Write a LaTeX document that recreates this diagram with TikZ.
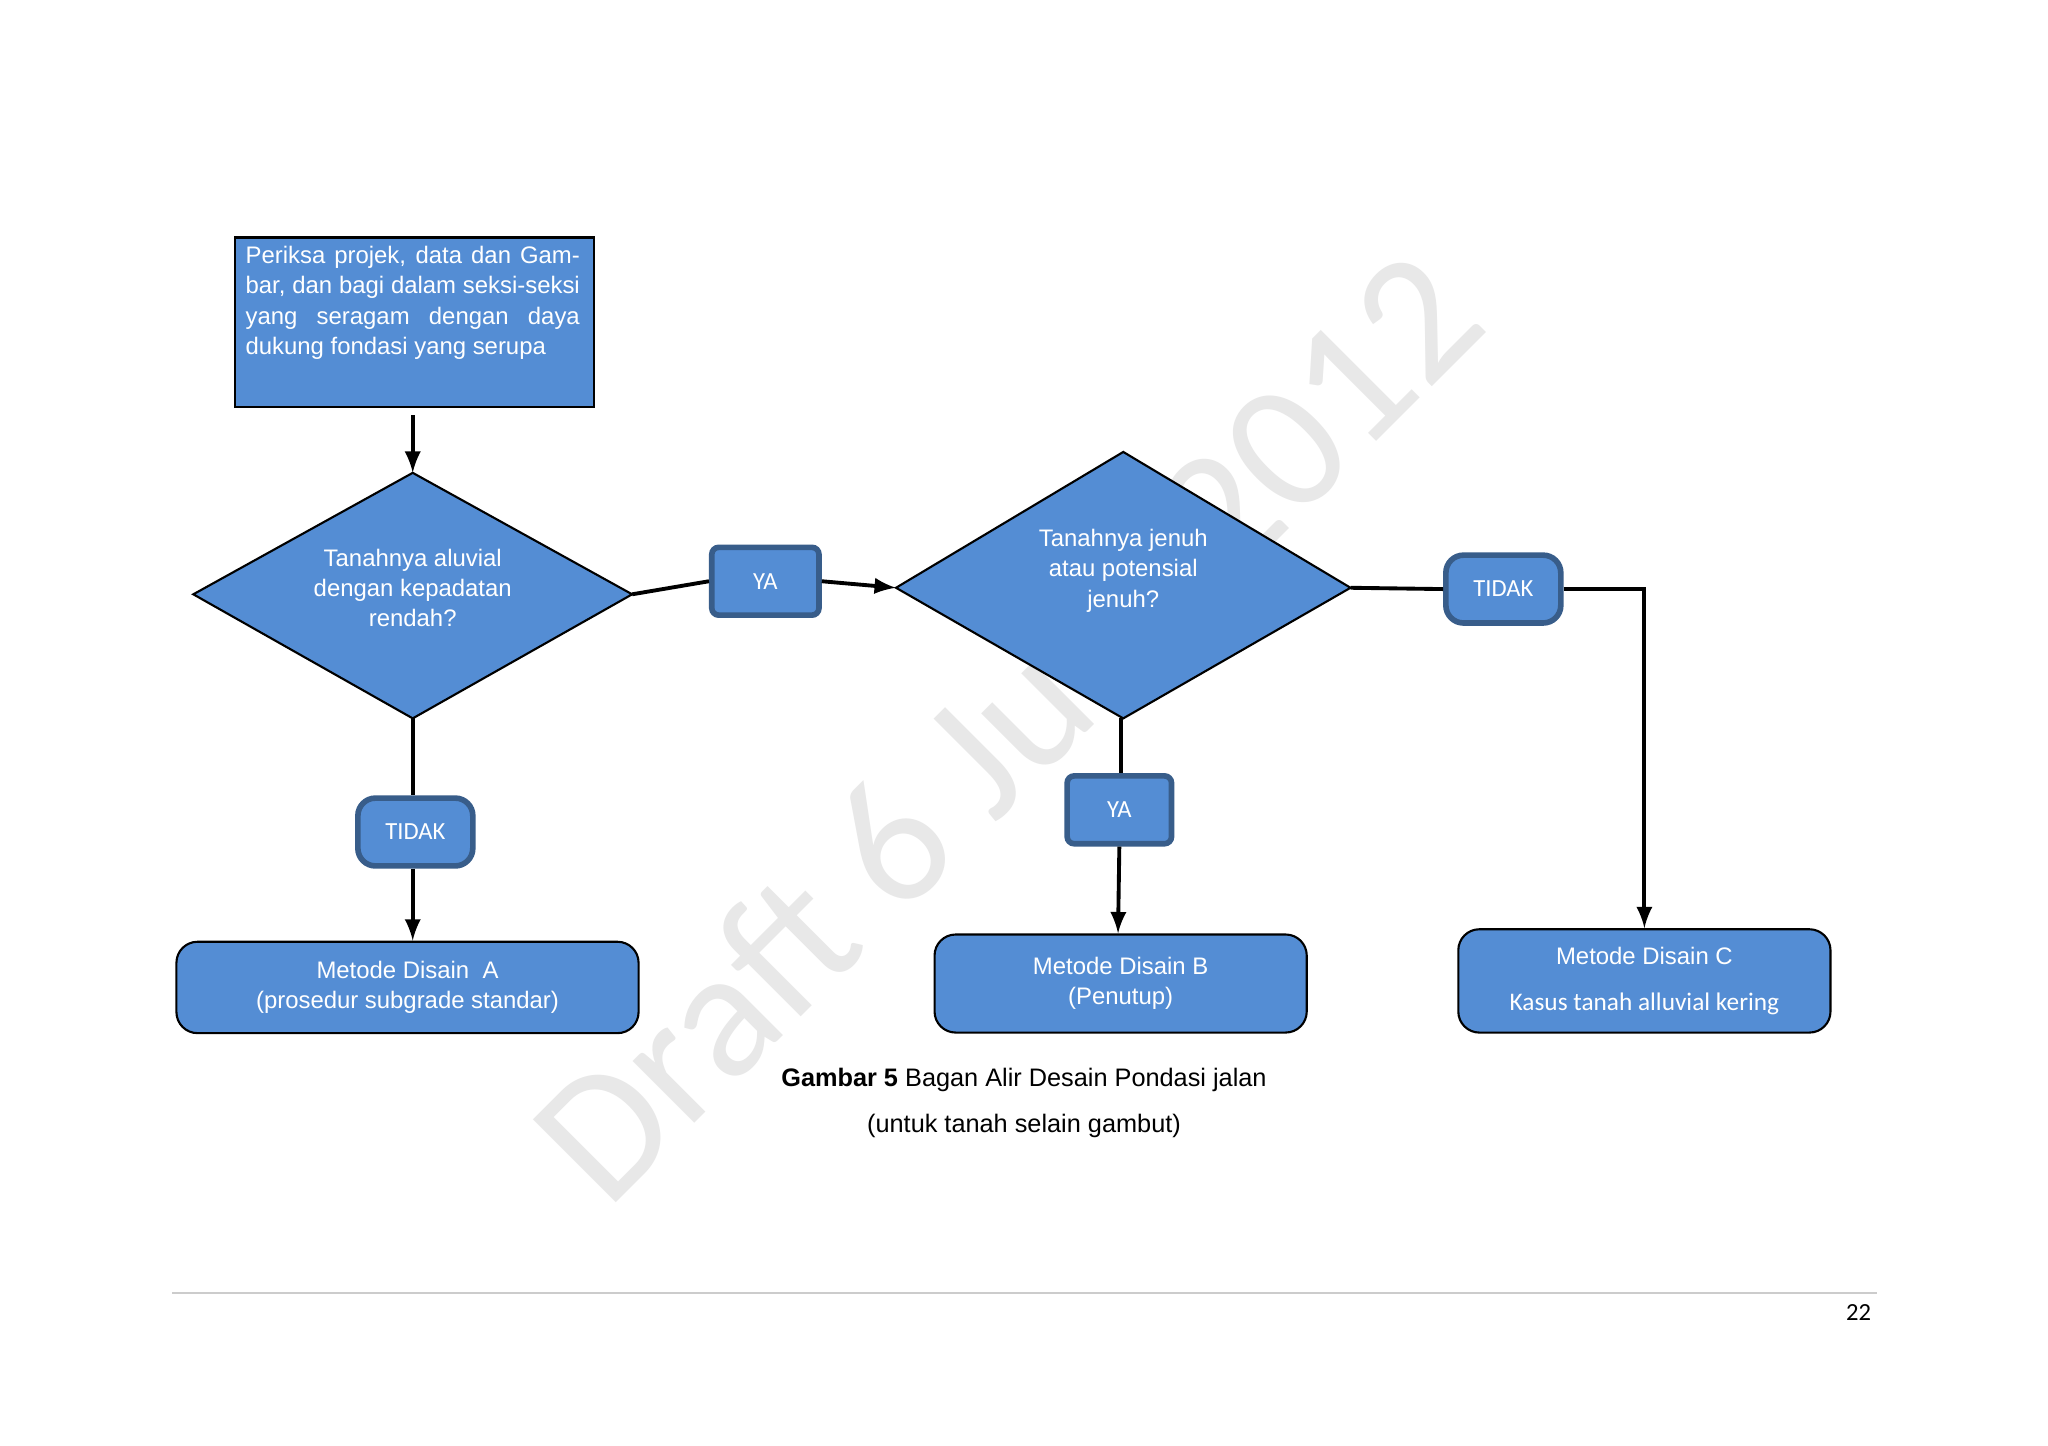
\documentclass[tikz,border=0pt]{standalone}
\usepackage{fontspec}
\setmainfont{Liberation Sans}
\newfontfamily\calfont{Carlito}
\begin{document}
\begin{tikzpicture}[x=0.013061cm,y=-0.013061cm,
  blu/.style={fill={rgb,255:red,84;green,141;blue,212}},
  txt/.style={text=white,font=\fontsize{6.8}{8.6}\selectfont,align=center},
  lbl/.style={blu,draw={rgb,255:red,56;green,93;blue,138},line width=1.6pt,rounded corners=2pt,text=white,font=\calfont\fontsize{7}{8}\selectfont},
  bigbox/.style={blu,draw=black,line width=0.6pt,rounded corners=6pt},
  con/.style={line width=1.1pt},
  arr/.style={con,-latex}]
\useasboundingbox (0,0) rectangle (1568,1107);
\fill[white] (0,0) rectangle (1568,1107);
\node[rotate=45,text=gray!18,font=\calfont\fontsize{52}{52}\selectfont] at (770,555) {Draft 6 Juni 2012};
% box 1
\node[blu,draw=black,line width=0.6pt,minimum width=102.2pt,minimum height=48.3pt,anchor=north west,inner sep=0] (b1) at (179,181) {};
\node[text=white,font=\fontsize{6.8}{8.6}\selectfont,text width=95.1pt,align=justify,anchor=north,inner sep=0] at (316,188)
 {Periksa projek, data dan Gambar, dan bagi dalam seksi-seksi yang seragam dengan daya dukung fondasi \mbox{yang serupa}\hfill\null};
% diamond 1
\coordinate (d1t) at (316,362); \coordinate (d1b) at (316,550);
\coordinate (d1l) at (148,455); \coordinate (d1r) at (484,455);
\filldraw[blu,draw=black,line width=0.6pt] (d1t)--(d1r)--(d1b)--(d1l)--cycle;
\node[txt] (d1) at (316,450) {Tanahnya aluvial\\dengan kepadatan\\rendah?};
% diamond 2
\coordinate (d2t) at (860,346); \coordinate (d2b) at (860,550);
\coordinate (d2l) at (686,450); \coordinate (d2r) at (1034,450);
\filldraw[blu,draw=black,line width=0.6pt] (d2t)--(d2r)--(d2b)--(d2l)--cycle;
\node[txt] (d2) at (860,437) {Tanahnya jenuh\\atau potensial\\jenuh?};
\draw[arr] (316,318) -- (d1t);
% labels
\node[lbl,minimum width=30.5pt,minimum height=19.3pt] (ya1) at (586,445) {YA};
\node[lbl,minimum width=32.7pt,minimum height=19.3pt,rounded corners=5pt] (td2) at (1151,451) {TIDAK};
\node[lbl,minimum width=32.7pt,minimum height=19.3pt,rounded corners=5pt] (td1) at (318,637) {TIDAK};
\node[lbl,minimum width=29.7pt,minimum height=19.3pt] (ya2) at (857,620) {YA};
% bottom boxes
\node[bigbox,minimum width=131.5pt,minimum height=26pt,txt] (ba) at (312,756) {Metode Disain\ \ A\\(prosedur subgrade standar)};
\node[bigbox,minimum width=105.9pt,minimum height=27.9pt,txt] (bb) at (858,753) {Metode Disain B\\(Penutup)};
\node[bigbox,minimum width=105.9pt,minimum height=29.4pt,text=white,align=center] (bc) at (1259,751)
 {\fontsize{6.8}{8.6}\selectfont Metode Disain C\\[1pt]\calfont\fontsize{7.2}{9}\selectfont Kasus tanah alluvial kering};
% connectors
\draw[con] (d1r) -- (ya1.west);
\draw[arr] (ya1.east) -- (d2l);
\draw[con] (d2r) -- (td2.west);
\draw[arr] (td2.east) -| (bc.north);
\draw[con] (d1b) -- (td1.north -| d1b);
\draw[arr] (td1.south -| d1b) -- (ba.north -| d1b);
\draw[con] (d2b -| 858,0) -- (ya2.north -| 858,0);
\draw[arr] (ya2.south -| 857,0) -- (bb.north -| 856,0);
% caption
\node[font=\fontsize{7.2}{9}\selectfont] (cap1) at (784,827) {\textbf{Gambar 5} Bagan Alir Desain Pondasi jalan};
\node[font=\fontsize{7.2}{9}\selectfont] (cap2) at (784,862) {(untuk tanah selain gambut)};
\draw[gray!40,line width=0.4pt] (132,990) -- (1437,990);
\node[font=\calfont\fontsize{7}{8}\selectfont] (pg) at (1423,1005) {22};
\end{tikzpicture}
\end{document}
